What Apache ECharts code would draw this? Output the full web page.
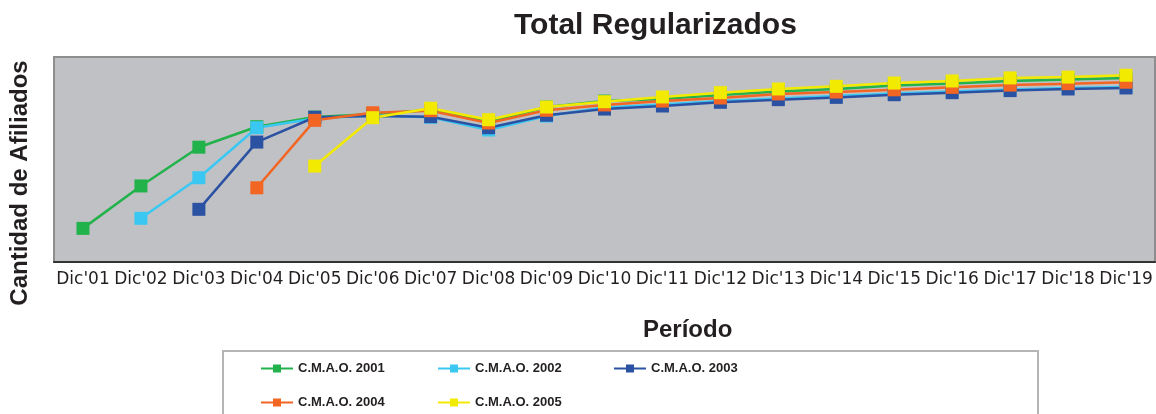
<!DOCTYPE html>
<html>
<head>
<meta charset="utf-8">
<title>Total Regularizados</title>
<script src="https://cdn.jsdelivr.net/npm/echarts@6/dist/echarts.min.js"></script>
<style>
  html, body { margin: 0; padding: 0; background: #fff; }
  #chart { width: 1156px; height: 414px; }
</style>
</head>
<body>
<div id="chart"></div>
<script>
const categories = ["Dic'01", "Dic'02", "Dic'03", "Dic'04", "Dic'05", "Dic'06", "Dic'07", "Dic'08", "Dic'09", "Dic'10",
  "Dic'11", "Dic'12", "Dic'13", "Dic'14", "Dic'15", "Dic'16", "Dic'17", "Dic'18", "Dic'19"];

// afiliados (escala relativa, sin etiquetas en el eje)
const cmao2001 = [16.4, 37.1, 56.0, 66.0, 70.7, 72.2, 74.1, 68.3, 75.6, 78.5, 79.5, 81.5, 83.2, 84.4, 86.1, 87.1, 88.3, 89.0, 89.8];
const cmao2002 = [null, 21.3, 41.1, 65.5, 70.0, 71.5, 70.6, 64.4, 71.2, 75.4, 76.8, 78.5, 79.8, 81.0, 82.2, 83.2, 84.1, 84.9, 85.4];
const cmao2003 = [null, null, 25.7, 58.5, 70.6, 71.2, 70.9, 65.5, 71.6, 74.6, 76.1, 77.9, 79.2, 80.3, 81.6, 82.6, 83.6, 84.4, 84.9];
const cmao2004 = [null, null, null, 36.2, 69.1, 72.8, 73.8, 67.8, 74.0, 76.6, 78.5, 80.0, 82.0, 82.9, 84.0, 85.2, 86.3, 87.0, 87.7];
const cmao2005 = [null, null, null, null, 46.8, 70.4, 75.0, 69.4, 75.6, 78.2, 80.5, 82.6, 84.4, 85.7, 87.3, 88.3, 89.8, 90.2, 91.1];

const seriesNames = ["C.M.A.O. 2001", "C.M.A.O. 2002", "C.M.A.O. 2003", "C.M.A.O. 2004", "C.M.A.O. 2005"];
const seriesData = [cmao2001, cmao2002, cmao2003, cmao2004, cmao2005];
const colors = ["#22b24c", "#3ac8f2", "#2b51a3", "#f26522", "#f2ea00"];

// posición de cada entrada de la leyenda
const legendPos = [[260, 362], [437, 362], [613, 362], [260, 396], [437, 396]];

const chart = echarts.init(document.getElementById("chart"));

const option = {
  animation: false,
  backgroundColor: "#ffffff",
  grid: {
    left: 54,
    right: 1,
    top: 57,
    bottom: 152,
    show: true,
    backgroundColor: "#c0c1c4",
    borderColor: "#8e8e8e",
    borderWidth: 2,
  },
  legend: seriesNames.map((name, i) => ({
    data: [name],
    left: legendPos[i][0],
    top: legendPos[i][1],
    padding: 0,
    itemWidth: 32,
    itemHeight: 10,
    textStyle: {
      fontFamily: "'Liberation Sans Narrow', 'Liberation Sans', Arial, sans-serif",
      fontWeight: "bold",
      fontSize: 13,
      color: "#231f20",
    },
  })),
  xAxis: {
    type: "category",
    data: categories,
    boundaryGap: true,
    axisLine: { lineStyle: { color: "#333333", width: 2 } },
    axisTick: { length: 6, lineStyle: { color: "#7a7a7a" } },
    axisLabel: {
      margin: 9,
      fontFamily: "'DejaVu Sans', sans-serif",
      fontSize: 17,
      color: "#231f20",
      interval: 0,
    },
  },
  yAxis: {
    type: "value",
    min: 0,
    max: 100,
    axisLine: { show: false },
    axisTick: { show: false },
    axisLabel: { show: false },
    splitLine: { show: false },
  },
  series: seriesNames.map((name, i) => ({
    name: name,
    type: "line",
    data: seriesData[i],
    symbol: "rect",
    symbolSize: 13,
    color: colors[i],
    lineStyle: { width: 2.5, color: colors[i] },
    itemStyle: { color: colors[i] },
  })),
  graphic: [
    {
      type: "text",
      left: 514,
      top: 11,
      style: {
        text: "Total Regularizados",
        font: "bold 30px 'Liberation Sans', Arial, sans-serif",
        fill: "#231f20",
      },
    },
    {
      type: "text",
      left: 643,
      top: 318,
      style: {
        text: "Período",
        font: "bold 24px 'Liberation Sans', Arial, sans-serif",
        fill: "#231f20",
      },
    },
    {
      type: "text",
      x: 20,
      y: 183,
      rotation: Math.PI / 2,
      style: {
        text: "Cantidad de Afiliados",
        font: "bold 24px 'Liberation Sans', Arial, sans-serif",
        fill: "#231f20",
        align: "center",
        verticalAlign: "middle",
      },
    },
    {
      type: "rect",
      shape: { x: 223, y: 351, width: 815, height: 80 },
      style: { fill: "none", stroke: "#b5b5b5", lineWidth: 2 },
      z: -1,
    },
  ],
};

chart.setOption(option);

window.addEventListener("resize", () => chart.resize());
</script>
</body>
</html>
